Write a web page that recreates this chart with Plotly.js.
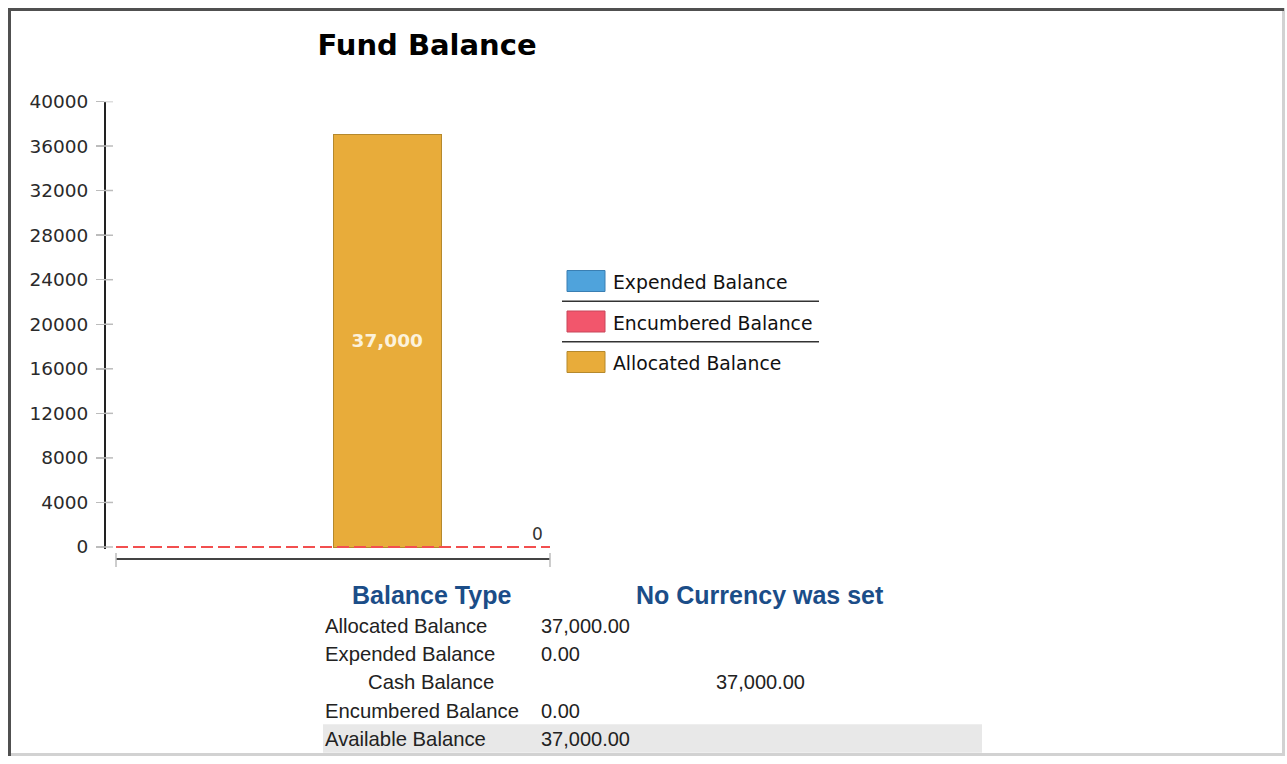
<!DOCTYPE html>
<html>
<head>
<meta charset="utf-8">
<script src="https://cdn.plot.ly/plotly-3.0.1.min.js"></script>
<style>
  html, body { margin: 0; padding: 0; background: #ffffff; }
  #chart { width: 1287px; height: 764px; }
</style>
</head>
<body>
<div id="chart"></div>
<script>
// ---------- data ----------
const categories = ['Fund'];
const seriesNames = ['Expended Balance', 'Encumbered Balance', 'Allocated Balance'];
const expendedValues = [0];
const encumberedValue = 0;
const allocatedValues = [37000];
const yTickVals = [0, 4000, 8000, 12000, 16000, 20000, 24000, 28000, 32000, 36000, 40000];
const tableHeaders = ['Balance Type', 'No Currency was set'];
const tableLabels = ['Allocated Balance', 'Expended Balance', 'Cash Balance', 'Encumbered Balance', 'Available Balance'];
const tableValues = [37000, 0, 37000, 0, 37000];

// ---------- styles ----------
const seriesColors = ['#4fa3dc', '#f2566c', '#e8ac3a'];
const seriesBorders = ['#3a7fb3', '#c8465a', '#b5892d'];
const rowIsSub = [false, false, true, false, false];
const rowShaded = [false, false, false, false, true];

const W = 1287, H = 764;
const X = px => px / W;
const Y = py => 1 - py / H;

// plot geometry (pixels)
const yAxisX = 104;
const plotLeft = 116, plotRight = 550;
const yZeroPx = 547, yTopPx = 101.5, yMax = 40000, yMin = -150;
const pxPerUnit = (yZeroPx - yTopPx) / yMax;
const yBottomPx = yZeroPx - yMin * pxPerUnit;
const xAxisY = 558.5;
const tickCol = '#bcbcbc';

const fmt0 = v => v.toLocaleString('en-US');
const fmt2 = v => v.toLocaleString('en-US', {minimumFractionDigits: 2, maximumFractionDigits: 2});

const traces = [
  {
    type: 'bar', x: categories, y: expendedValues, name: seriesNames[0],
    width: 1, marker: {color: seriesColors[0], line: {width: 0}},
    hoverinfo: 'skip', showlegend: false
  },
  {
    type: 'bar', x: categories, y: allocatedValues, name: seriesNames[2],
    width: 1, marker: {color: seriesColors[2], line: {color: seriesBorders[2], width: 1}},
    texttemplate: '%{y:,}', textposition: 'inside', insidetextanchor: 'middle', textangle: 0,
    textfont: {family: 'DejaVu Sans', size: 18.5, color: '#fcf2dc', weight: 'bold'},
    hoverinfo: 'skip', showlegend: false
  }
];

const shapes = [];
const annotations = [];

// encumbered dashed line at its value
shapes.push({type: 'line', xref: 'paper', yref: 'y', x0: X(plotLeft), x1: X(plotRight),
  y0: encumberedValue, y1: encumberedValue, line: {color: '#f24f4f', width: 2, dash: '12px,5px'}, layer: 'above'});
annotations.push({xref: 'paper', yref: 'y', x: X(plotRight - 5), y: encumberedValue, xanchor: 'right', yanchor: 'bottom',
  yshift: 1, text: fmt0(encumberedValue), showarrow: false, font: {family: 'DejaVu Sans', size: 17, color: '#333'}});

// inner halves of axis ticks (the axis ticks cross the axis lines)
yTickVals.forEach(v => {
  shapes.push({type: 'line', xref: 'paper', yref: 'y', x0: X(yAxisX), x1: X(yAxisX + 9), y0: v, y1: v,
    line: {color: tickCol, width: 1.5}});
});
[plotLeft, plotRight].forEach(px => {
  shapes.push({type: 'line', xref: 'paper', yref: 'paper', x0: X(px), x1: X(px), y0: Y(xAxisY - 5.5), y1: Y(xAxisY + 8.5),
    line: {color: tickCol, width: 1.5}});
});

// custom legend
const legCenters = [281, 321.5, 362];
seriesNames.forEach((n, i) => {
  const c = legCenters[i];
  shapes.push({type: 'rect', xref: 'paper', yref: 'paper', x0: X(567), x1: X(605), y0: Y(c - 10.5), y1: Y(c + 10.5),
    fillcolor: seriesColors[i], line: {color: seriesBorders[i], width: 1}});
  annotations.push({xref: 'paper', yref: 'paper', x: X(611), y: Y(c + 1.5), xanchor: 'left', yanchor: 'middle',
    text: n, showarrow: false, font: {family: 'DejaVu Sans', size: 18.8, color: '#111'}});
  if (i < seriesNames.length - 1) {
    const sy = (legCenters[i] + legCenters[i + 1]) / 2;
    shapes.push({type: 'line', xref: 'paper', yref: 'paper', x0: X(562), x1: X(819), y0: Y(sy), y1: Y(sy),
      line: {color: '#333', width: 1.5}});
  }
});

// table
annotations.push({xref: 'paper', yref: 'paper', x: X(431), y: Y(595), xanchor: 'center', yanchor: 'middle',
  text: '<b>' + tableHeaders[0] + '</b>', showarrow: false, font: {family: 'Liberation Sans', size: 25, color: '#1b4d88'}});
annotations.push({xref: 'paper', yref: 'paper', x: X(760), y: Y(595), xanchor: 'center', yanchor: 'middle',
  text: '<b>' + tableHeaders[1] + '</b>', showarrow: false, font: {family: 'Liberation Sans', size: 25, color: '#1b4d88'}});
const rowY0 = 626, rowStep = 28.2;
tableLabels.forEach((lab, i) => {
  const cy = rowY0 + i * rowStep;
  if (rowShaded[i]) {
    shapes.push({type: 'rect', xref: 'paper', yref: 'paper', x0: X(323), x1: X(982), y0: Y(cy - 14.5), y1: Y(cy + 14),
      fillcolor: '#e8e8e8', line: {width: 0}, layer: 'below'});
  }
  annotations.push({xref: 'paper', yref: 'paper', x: X(rowIsSub[i] ? 366 : 323), y: Y(cy), xanchor: 'left', yanchor: 'middle',
    text: lab, showarrow: false, font: {family: 'Liberation Sans', size: 20.3, color: '#222'}});
  annotations.push({xref: 'paper', yref: 'paper', x: X(rowIsSub[i] ? 714 : 539), y: Y(cy), xanchor: 'left', yanchor: 'middle',
    text: fmt2(tableValues[i]), showarrow: false, font: {family: 'Liberation Sans', size: 20, color: '#222'}});
});

// page frame
shapes.push({type: 'line', xref: 'paper', yref: 'paper', x0: X(1283.5), x1: X(1283.5), y0: Y(8), y1: Y(756), line: {color: '#d2d2d2', width: 3}});
shapes.push({type: 'line', xref: 'paper', yref: 'paper', x0: X(8), x1: X(1285), y0: Y(754.5), y1: Y(754.5), line: {color: '#d2d2d2', width: 3}});
shapes.push({type: 'line', xref: 'paper', yref: 'paper', x0: X(8), x1: X(1284), y0: Y(9.5), y1: Y(9.5), line: {color: '#505050', width: 3}});
shapes.push({type: 'line', xref: 'paper', yref: 'paper', x0: X(9.5), x1: X(9.5), y0: Y(8), y1: Y(756), line: {color: '#505050', width: 3}});

const yDomain = [Y(yBottomPx), Y(yTopPx)];
const xDomain = [X(plotLeft), X(plotRight)];

const layout = {
  width: W, height: H,
  margin: {l: 0, r: 0, t: 0, b: 0, pad: 0},
  paper_bgcolor: '#ffffff', plot_bgcolor: 'rgba(0,0,0,0)',
  showlegend: false, hovermode: false,
  barmode: 'stack',
  title: {text: '<b>Fund Balance</b>', xref: 'paper', yref: 'paper', x: X(427), xanchor: 'center', y: Y(45), yanchor: 'middle',
    font: {family: 'DejaVu Sans', size: 29, color: '#000'}},
  xaxis: {type: 'category', domain: xDomain, range: [-2.5, 1.5], anchor: 'free', position: Y(xAxisY),
    showline: true, linecolor: '#444', linewidth: 2, showticklabels: false, ticks: '', showgrid: false, zeroline: false, fixedrange: true},
  yaxis: {domain: yDomain, range: [yMin, yMax], anchor: 'free', position: X(yAxisX), tickmode: 'array', tickvals: yTickVals,
    tickformat: 'd',
    ticks: 'outside', ticklen: 8, tickwidth: 1.5, tickcolor: tickCol, ticklabelstandoff: 4,
    showline: true, linecolor: '#222', linewidth: 1.5, showgrid: false, zeroline: false,
    tickfont: {family: 'DejaVu Sans', size: 18.5, color: '#2a2a2a'}},
  shapes: shapes,
  annotations: annotations
};

Plotly.newPlot('chart', traces, layout, {displayModeBar: false, staticPlot: true});
</script>
</body>
</html>
